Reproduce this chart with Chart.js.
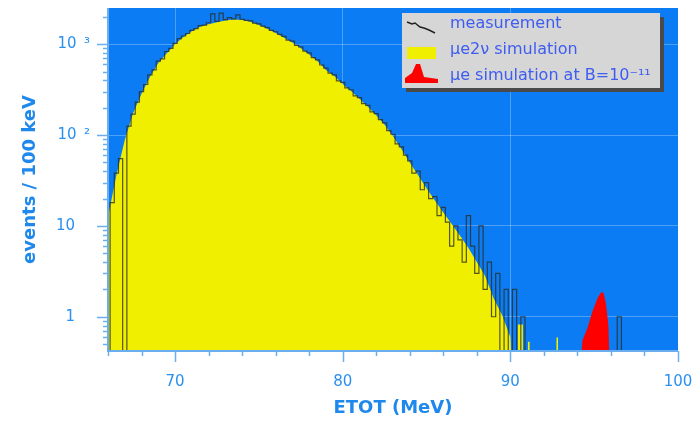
<!DOCTYPE html>
<html>
<head>
<meta charset="utf-8">
<script src="https://cdn.jsdelivr.net/npm/chart.js"></script>
<style>
html,body{margin:0;padding:0;background:#ffffff;}
#wrap{width:700px;height:425px;}
</style>
</head>
<body>
<div id="wrap"><canvas id="c" width="700" height="425"></canvas></div>
<script>
// ---------------- data ----------------
const seriesLabels = ['measurement', 'μe2ν simulation', 'μe simulation at B=10⁻¹¹'];
const xTitle = 'ETOT (MeV)';
const yTitle = 'events / 100 keV';
const xTickValues = [70, 80, 90, 100];
const yTickValues = [1, 10, 100, 1000];
const yTickLabels = ['1\u2002\u2002', '10\u2002\u2002', '10\u2002²', '10\u2002³'];

// μe2ν simulation (MeV, events)
const simE = [66.0, 66.5, 67.0, 67.5, 68.0, 68.5, 69.0, 69.5, 70.0, 70.5,
              71.0, 71.5, 72.0, 72.5, 73.0, 73.5, 74.0, 74.5, 75.0, 75.5,
              76.0, 76.5, 77.0, 77.5, 78.0, 78.5, 79.0, 79.5, 80.0, 80.5,
              81.0, 81.5, 82.0, 82.5, 83.0, 83.5, 84.0, 84.5, 85.0, 85.5,
              86.0, 86.5, 87.0, 87.5, 88.0, 88.5, 89.0, 89.5, 90.0, 90.2,
              90.45, 90.45, 90.75, 90.75, 91.05, 91.05, 91.15, 91.15,
              92.75, 92.75, 92.85, 92.85];
const simVal = [12.5, 36, 88, 175, 285, 435, 620, 790, 1000, 1200,
                1390, 1550, 1660, 1740, 1820, 1870, 1850, 1760, 1620, 1480,
                1330, 1180, 1040, 900, 770, 650, 520, 445, 365, 305,
                250, 205, 165, 130, 97, 70, 50, 36, 26, 19,
                14, 10.5, 7.8, 5.7, 4.0, 2.8, 1.6, 1.05, 0.6, 0,
                0, 0.82, 0.82, 0, 0, 0.53, 0.53, 0,
                0, 0.59, 0.59, 0];

// measurement: bins of 0.25 MeV starting at 66.0 MeV
const measStart = 66.0;
const measBinWidth = 0.25;
const measCounts = [
  0, 18, 38, 55, 0, 125, 170, 230, 300, 360,
  460, 520, 650, 690, 830, 900, 1020, 1150, 1230, 1310,
  1420, 1480, 1600, 1620, 1720, 2150, 1780, 2200, 1860, 1960,
  1900, 2100, 1880, 1830, 1800, 1700, 1670, 1580, 1520, 1420,
  1370, 1280, 1220, 1110, 1080, 970, 930, 840, 800, 710,
  670, 590, 545, 480, 460, 395, 380, 330, 315, 270,
  258, 222, 212, 180, 172, 148, 136, 112, 102, 80,
  74, 60, 52, 38, 40, 25, 30, 20, 21, 13,
  16, 11, 6, 10, 7, 4, 13, 6, 3, 10,
  2, 4, 1, 3, 0, 2, 0, 2, 0, 1,
  0, 0, 0, 0, 0, 0, 0, 0, 0, 0,
  0, 0, 0, 0, 0, 0, 0, 0, 0, 0,
  0, 0, 1, 0
];

// μe signal simulation at B=1e-11
const sigE = [94.0, 94.3, 94.6, 94.9, 95.2, 95.4, 95.55, 95.7, 95.85, 96.0];
const sigVal = [0, 0.55, 0.75, 1.15, 1.6, 1.85, 1.85, 1.4, 0.8, 0];

// ---------------- build ----------------
// empty bins cannot sit on a log axis: draw them just below the visible range
const BELOW_AXIS = 0.1;
const logSafe = v => (v > 0 ? v : BELOW_AXIS);
const simData = simE.map((e, i) => ({x: e, y: logSafe(simVal[i])}));
const measData = measCounts.map((c, i) => ({x: measStart + i * measBinWidth, y: logSafe(c)}));
const sigData = sigE.map((e, i) => ({x: e, y: logSafe(sigVal[i])}));

const BLUE_BG = '#0b7cf4';
const TICK_TXT = '#2a90f0';

const plotDecor = {
  id: 'plotDecor',
  beforeDraw(chart) {
    const {ctx, chartArea: a} = chart;
    ctx.save();
    ctx.fillStyle = BLUE_BG;
    ctx.fillRect(a.left, a.top, a.right - a.left, a.bottom - a.top);
    ctx.restore();
  },
  afterDatasetsDraw(chart) {
    const {ctx, chartArea: a, scales: {x, y}} = chart;
    ctx.save();
    ctx.strokeStyle = '#6aaef0';
    ctx.lineWidth = 2;
    ctx.beginPath();
    ctx.moveTo(a.left, a.top);
    ctx.lineTo(a.left, a.bottom);
    ctx.lineTo(a.right, a.bottom);
    ctx.stroke();
    ctx.lineWidth = 1.5;
    for (let v = 66; v <= 100; v += 2) {
      const px = Math.round(x.getPixelForValue(v)) + 0.5;
      const len = v % 10 === 0 ? 11 : 5;
      ctx.beginPath();
      ctx.moveTo(px, a.bottom);
      ctx.lineTo(px, a.bottom + len);
      ctx.stroke();
    }
    for (let d = -1; d <= 3; d++) {
      for (let m = 1; m <= 9; m++) {
        const v = m * Math.pow(10, d);
        if (v < y.min || v > y.max) continue;
        const py = Math.round(y.getPixelForValue(v)) + 0.5;
        const len = m === 1 ? 11 : 5;
        ctx.beginPath();
        ctx.moveTo(a.left, py);
        ctx.lineTo(a.left - len, py);
        ctx.stroke();
      }
    }
    ctx.restore();
  },
  afterDraw(chart) {
    const {ctx, chartArea: a} = chart;
    const bw = 258, bh = 75;
    const bx = a.right - 276, by = a.top + 5;
    ctx.save();
    ctx.fillStyle = '#4a4a4a';
    ctx.fillRect(bx + 4, by + 4, bw, bh);
    ctx.fillStyle = '#d6d6d6';
    ctx.fillRect(bx, by, bw, bh);
    // icons
    ctx.strokeStyle = '#222222';
    ctx.lineWidth = 1.5;
    ctx.beginPath();
    ctx.moveTo(bx + 5, by + 9);
    ctx.lineTo(bx + 10, by + 11);
    ctx.lineTo(bx + 13, by + 10);
    ctx.lineTo(bx + 18, by + 14);
    ctx.lineTo(bx + 22, by + 15);
    ctx.lineTo(bx + 27, by + 17);
    ctx.lineTo(bx + 33, by + 20);
    ctx.stroke();
    ctx.fillStyle = '#f0ef00';
    ctx.fillRect(bx + 5, by + 34, 29, 12);
    ctx.fillStyle = '#ff0000';
    ctx.beginPath();
    ctx.moveTo(bx + 3, by + 70);
    ctx.lineTo(bx + 3, by + 65);
    ctx.lineTo(bx + 10, by + 60);
    ctx.lineTo(bx + 14, by + 51);
    ctx.lineTo(bx + 18, by + 51);
    ctx.lineTo(bx + 22, by + 64);
    ctx.lineTo(bx + 36, by + 66);
    ctx.lineTo(bx + 36, by + 70);
    ctx.closePath();
    ctx.fill();
    // texts
    ctx.fillStyle = '#3d5cf0';
    ctx.font = '16px "DejaVu Sans"';
    ctx.textBaseline = 'middle';
    ctx.textAlign = 'left';
    const rows = [11, 37, 63];
    chart.data.datasets.forEach((ds, i) => {
      ctx.fillText(ds.label, bx + 48, by + rows[i]);
    });
    ctx.restore();
  }
};

new Chart(document.getElementById('c'), {
  type: 'line',
  data: {
    datasets: [
      {
        label: seriesLabels[0],
        data: measData,
        stepped: 'middle',
        borderColor: 'rgba(45,45,35,0.8)',
        borderWidth: 1.2,
        pointRadius: 0,
        fill: false,
        order: 0
      },
      {
        label: seriesLabels[1],
        data: simData,
        borderWidth: 0,
        borderColor: 'rgba(0,0,0,0)',
        backgroundColor: '#f0ef00',
        pointRadius: 0,
        fill: 'start',
        tension: 0,
        order: 2
      },
      {
        label: seriesLabels[2],
        data: sigData,
        borderWidth: 0,
        borderColor: 'rgba(0,0,0,0)',
        backgroundColor: '#ff0000',
        pointRadius: 0,
        fill: 'start',
        tension: 0,
        order: 1
      }
    ]
  },
  options: {
    responsive: false,
    devicePixelRatio: 1,
    animation: false,
    events: [],
    layout: {padding: {left: 16, right: 22, top: 8, bottom: 0}},
    plugins: {
      legend: {display: false},
      tooltip: {enabled: false},
      title: {display: false}
    },
    scales: {
      x: {
        type: 'linear',
        min: 66,
        max: 100,
        afterBuildTicks: s => { s.ticks = xTickValues.map(v => ({value: v})); },
        afterFit: s => { s.height = 74; s.paddingLeft = 0; s.paddingRight = 0; },
        grid: {color: 'rgba(255,255,255,0.28)', lineWidth: 1, drawTicks: false},
        border: {display: false},
        ticks: {
          color: TICK_TXT,
          font: {family: 'DejaVu Sans', size: 15},
          padding: 22,
          maxRotation: 0,
          autoSkip: false,
          callback: v => String(v)
        },
        title: {
          display: true,
          text: xTitle,
          color: '#1e88ec',
          font: {family: 'DejaVu Sans', size: 18, weight: 'bold'},
          padding: {top: 0, bottom: 6}
        }
      },
      y: {
        type: 'logarithmic',
        min: 0.42,
        max: 2500,
        afterBuildTicks: s => { s.ticks = yTickValues.map(v => ({value: v})); },
        afterFit: s => { s.width = 92; s.paddingTop = 0; s.paddingBottom = 0; },
        grid: {color: 'rgba(255,255,255,0.28)', lineWidth: 1, drawTicks: false},
        border: {display: false},
        ticks: {
          color: TICK_TXT,
          font: {family: 'DejaVu Sans', size: 15},
          padding: 18,
          autoSkip: false,
          callback: v => {
            const i = yTickValues.indexOf(v);
            return i >= 0 ? yTickLabels[i] : '';
          }
        },
        title: {
          display: true,
          text: yTitle,
          color: '#1e88ec',
          font: {family: 'DejaVu Sans', size: 18, weight: 'bold'},
          padding: {top: 4, bottom: 0}
        }
      }
    }
  },
  plugins: [plotDecor]
});
</script>
</body>
</html>
